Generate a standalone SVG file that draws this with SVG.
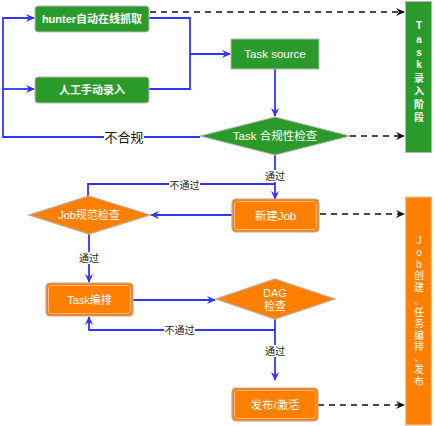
<svg xmlns="http://www.w3.org/2000/svg" width="435" height="426" viewBox="0 0 435 426">
<style>
.g{fill:#2a9b2a;stroke:#b8b8b8;stroke-width:1}
.o{fill:#ff8000;stroke:#c0a898;stroke-width:1.2}
.in{fill:none;stroke:#ffc890;stroke-width:0.8}
.t{font-family:"Liberation Sans","Noto Sans CJK SC",sans-serif;font-size:11px;fill:#fff;text-anchor:middle;dominant-baseline:central}
.b{font-weight:bold}
.v{font-size:10px}
.l{font-family:"Liberation Sans","Noto Sans CJK SC",sans-serif;font-size:10px;fill:#222;text-anchor:middle;dominant-baseline:central}
.ln{fill:none;stroke:#3333ff;stroke-width:1.8}
.d{fill:none;stroke:#111;stroke-width:1.6;stroke-dasharray:6,5}
.lb{fill:#fff}
</style>
<defs>
<marker id="ab" markerWidth="10" markerHeight="10" refX="8" refY="5" orient="auto" markerUnits="userSpaceOnUse">
<path d="M0,1 L9,5 L0,9 L3,5 Z" fill="#3333ff"/>
</marker>
<marker id="ak" markerWidth="10" markerHeight="10" refX="8" refY="5" orient="auto" markerUnits="userSpaceOnUse">
<path d="M0,1 L9,5 L0,9 L3,5 Z" fill="#111"/>
</marker>
</defs>
<g id="connectors">
<path class="ln" d="M200,137 H3 V18 H34" marker-end="url(#ab)"/>
<path class="ln" d="M3,89 H34" marker-end="url(#ab)"/>
<path class="ln" d="M149,18 H190 V89 H149"/>
<path class="ln" d="M190,54 H230" marker-end="url(#ab)"/>
<path class="ln" d="M275,69 V116" marker-end="url(#ab)"/>
<path class="ln" d="M275,155 V199" marker-end="url(#ab)"/>
<path class="ln" d="M275,184 H88 V196"/>
<path class="ln" d="M232,215 H151" marker-end="url(#ab)"/>
<path class="ln" d="M89,234 V282" marker-end="url(#ab)"/>
<path class="ln" d="M133,300 H215" marker-end="url(#ab)"/>
<path class="ln" d="M275,319 V380" marker-end="url(#ab)"/>
<path class="ln" d="M275,330 H89 V317" marker-end="url(#ab)"/>
<path class="d" d="M150,12 H404" marker-end="url(#ak)"/>
<path class="d" d="M350,136 H404" marker-end="url(#ak)"/>
<path class="d" d="M320,214 H404" marker-end="url(#ak)"/>
<path class="d" d="M318,405 H404" marker-end="url(#ak)"/>
<rect class="lb" x="104" y="129" width="40" height="16"/>
<text class="l" x="124" y="137" style="font-size:13px;fill:#111">不合规</text>
<rect class="lb" x="264" y="170" width="22" height="12"/>
<text class="l" x="275" y="176">通过</text>
<rect class="lb" x="169" y="179" width="31" height="12"/>
<text class="l" x="184.5" y="185">不通过</text>
<rect class="lb" x="78" y="252" width="22" height="12"/>
<text class="l" x="89" y="258">通过</text>
<rect class="lb" x="164" y="324" width="31" height="12"/>
<text class="l" x="179.5" y="330">不通过</text>
<rect class="lb" x="264" y="345" width="22" height="12"/>
<text class="l" x="275" y="351">通过</text>
</g>
<g id="hunter">
<rect class="g" x="35" y="6" width="114" height="26" rx="3"/>
<text class="t b" x="92" y="19">hunter自动在线抓取</text>
</g>
<g id="manual">
<rect class="g" x="35" y="77" width="114" height="26" rx="3"/>
<text class="t b" x="92" y="90">人工手动录入</text>
</g>
<g id="tasksource">
<rect class="g" x="231" y="39" width="88" height="30"/>
<text class="t" x="275" y="54" style="font-size:11.5px">Task source</text>
</g>
<g id="taskcheck">
<polygon class="g" points="275,117 350,136 275,155 200,136"/>
<text class="t" x="275" y="136" style="font-size:11.5px">Task 合规性检查</text>
</g>
<g id="newjob">
<rect class="o" x="232" y="199" width="87" height="33" rx="4"/>
<rect class="in" x="234.5" y="201.5" width="82" height="28" rx="3"/>
<text class="t" x="275.5" y="215.5" style="font-size:11.5px">新建Job</text>
</g>
<g id="jobcheck">
<polygon class="o" points="89,196 150,215 89,234 29,215"/>
<text class="t" x="89" y="215">Job规范检查</text>
</g>
<g id="taskorch">
<rect class="o" x="46" y="283" width="87" height="33" rx="4"/>
<rect class="in" x="48.5" y="285.5" width="82" height="28" rx="3"/>
<text class="t" x="89.5" y="299.5">Task编排</text>
</g>
<g id="dagcheck">
<polygon class="o" points="275,279 335,299 275,319 216,299"/>
<text class="t" x="275" y="293">DAG</text>
<text class="t" x="275" y="306">检查</text>
</g>
<g id="publish">
<rect class="o" x="232" y="388" width="86" height="33" rx="4"/>
<rect class="in" x="234.5" y="390.5" width="81" height="28" rx="3"/>
<text class="t" x="275" y="404.5" style="font-size:11.5px">发布/激活</text>
</g>
<g id="stage1">
<rect class="g" x="405.5" y="1.5" width="26" height="151"/>
<text class="t b v" x="419" y="25">T<tspan x="419" y="39">a</tspan><tspan x="419" y="52">s</tspan><tspan x="419" y="64">k</tspan><tspan x="419" y="78">录</tspan><tspan x="419" y="91">入</tspan><tspan x="419" y="104">阶</tspan><tspan x="419" y="117">段</tspan></text>
</g>
<g id="stage2">
<rect class="o" x="405.5" y="197" width="26" height="228" style="stroke:#e0c8b0"/>
<text class="t v" x="419" y="240">J<tspan x="419" y="252">o</tspan><tspan x="419" y="264">b</tspan><tspan x="419" y="275">创</tspan><tspan x="419" y="287">建</tspan><tspan x="419" y="300">、</tspan><tspan x="419" y="312">任</tspan><tspan x="419" y="323">务</tspan><tspan x="419" y="335">编</tspan><tspan x="419" y="346">排</tspan><tspan x="419" y="357">、</tspan><tspan x="419" y="369">发</tspan><tspan x="419" y="381">布</tspan></text>
</g>
</svg>
